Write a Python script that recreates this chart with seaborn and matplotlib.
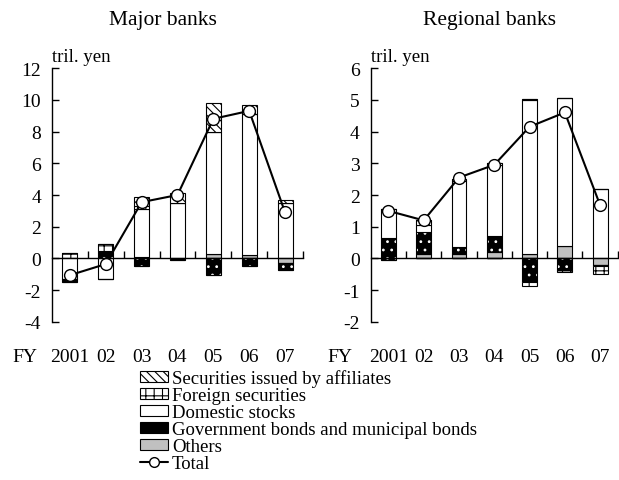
import matplotlib
matplotlib.use("Agg")
import matplotlib.pyplot as plt
from matplotlib.patches import Patch
from matplotlib.lines import Line2D
import seaborn as sns
import numpy as np

years = ["2001", "02", "03", "04", "05", "06", "07"]
series = ["Others", "Government bonds and municipal bonds", "Domestic stocks",
          "Foreign securities", "Securities issued by affiliates"]

# major banks, tril. yen (positive / negative parts of each component)
major_pos = {
    "Others":       [0.0, 0.0, 0.1, 0.0, 0.3, 0.25, 0.0],
    "Government bonds and municipal bonds": [0.05, 0.45, 0.0, 0.0, 0.0, 0.0, 0.0],
    "Domestic stocks": [0.0, 0.0, 3.0, 3.5, 7.7, 8.85, 3.5],
    "Foreign securities": [0.3, 0.45, 0.2, 0.0, 0.0, 0.0, 0.0],
    "Securities issued by affiliates": [0.0, 0.0, 0.6, 0.6, 1.8, 0.6, 0.2],
}
major_neg = {
    "Others":       [0.0, 0.0, 0.0, -0.02, 0.0, 0.0, -0.3],
    "Domestic stocks": [-1.3, -1.3, 0.0, 0.0, 0.0, 0.0, 0.0],
    "Government bonds and municipal bonds": [-0.15, 0.0, -0.45, -0.08, -1.05, -0.5, -0.4],
    "Foreign securities": [0.0, 0.0, 0.0, 0.0, 0.0, 0.0, 0.0],
}
major_total = [-1.05, -0.35, 3.55, 4.0, 8.8, 9.3, 2.9]

# regional banks
regional_pos = {
    "Others":       [0.0, 0.15, 0.15, 0.22, 0.15, 0.4, 0.0],
    "Government bonds and municipal bonds": [0.65, 0.7, 0.2, 0.5, 0.0, 0.0, 0.0],
    "Domestic stocks": [0.9, 0.2, 2.1, 2.23, 4.83, 4.65, 2.2],
    "Foreign securities": [0.0, 0.15, 0.05, 0.05, 0.05, 0.0, 0.0],
    "Securities issued by affiliates": [0.0, 0.0, 0.0, 0.0, 0.0, 0.0, 0.0],
}
regional_neg = {
    "Others":       [0.0, 0.0, 0.0, 0.0, 0.0, 0.0, -0.2],
    "Domestic stocks": [0.0, 0.0, 0.0, 0.0, 0.0, 0.0, 0.0],
    "Government bonds and municipal bonds": [-0.05, 0.0, 0.0, 0.0, -0.75, -0.35, -0.05],
    "Foreign securities": [0.0, 0.0, 0.0, 0.0, -0.12, -0.07, -0.25],
}
regional_total = [1.5, 1.2, 2.55, 2.95, 4.15, 4.6, 1.68]

styles = {
    "Others": dict(facecolor="#c0c0c0", hatch=None, hc="black"),
    "Government bonds and municipal bonds": dict(facecolor="black", hatch="..", hc="white"),
    "Domestic stocks": dict(facecolor="white", hatch=None, hc="black"),
    "Foreign securities": dict(facecolor="white", hatch="++", hc="black"),
    "Securities issued by affiliates": dict(facecolor="white", hatch="\\\\\\\\", hc="black"),
}

sns.set_theme(style="ticks")
plt.rcParams["font.family"] = ["Liberation Serif", "DejaVu Serif"]
plt.rcParams["hatch.linewidth"] = 0.8
plt.rcParams["text.color"] = "black"
plt.rcParams["xtick.color"] = "black"
plt.rcParams["ytick.color"] = "black"
plt.rcParams["axes.labelcolor"] = "black"

fig = plt.figure(figsize=(6.19, 4.81), dpi=100)
ax1 = fig.add_axes([0.084, 0.3285, 0.4055, 0.528])
ax2 = fig.add_axes([0.599, 0.3285, 0.399, 0.528])

x = np.arange(len(years))
w = 0.42


def draw_bars(ax, pos, neg):
    bottom = np.zeros(len(years))
    for name in series:
        vals = np.array(pos[name])
        st = styles[name]
        ax.bar(x, vals, w, bottom=bottom, color=st["facecolor"], edgecolor=st["hc"],
               hatch=st["hatch"], linewidth=0)
        ax.bar(x, vals, w, bottom=bottom, fill=False, edgecolor="black", linewidth=0.8)
        bottom = bottom + vals
    bottom = np.zeros(len(years))
    for name in neg:
        vals = np.array(neg[name])
        st = styles[name]
        ax.bar(x, vals, w, bottom=bottom, color=st["facecolor"], edgecolor=st["hc"],
               hatch=st["hatch"], linewidth=0)
        ax.bar(x, vals, w, bottom=bottom, fill=False, edgecolor="black", linewidth=0.8)
        bottom = bottom + vals


def style_axis(ax, lo, hi, step, fy_x):
    ax.set_xlim(-0.5, 6.5)
    ax.set_ylim(lo, hi)
    ax.set_yticks(np.arange(lo, hi + step / 2, step))
    ax.set_yticklabels([str(int(v)) for v in np.arange(lo, hi + step / 2, step)], fontsize=14)
    ax.spines["top"].set_visible(False)
    ax.spines["right"].set_visible(False)
    ax.spines["bottom"].set_position(("data", 0))
    ax.spines["left"].set_linewidth(1.0)
    ax.spines["bottom"].set_linewidth(1.0)
    ax.spines["left"].set_color("black")
    ax.spines["bottom"].set_color("black")
    ax.set_xticks(np.arange(0.5, 7, 1))
    ax.set_xticklabels([])
    ax.tick_params(axis="x", direction="in", length=5, width=1, color="black")
    ax.tick_params(axis="y", direction="in", length=5, width=1, color="black", pad=8)
    trans = ax.get_xaxis_transform()
    for i, lab in enumerate(years):
        ax.text(i, -0.135, lab, transform=trans, ha="center", va="center", fontsize=14)
    ax.text(fy_x, -0.135, "FY", transform=trans, ha="center", va="center", fontsize=14)
    ax.text(0.0, 1.012, "tril. yen", transform=ax.transAxes, ha="left", va="bottom",
            fontsize=13.5)
    ax.set_xlabel("")
    ax.set_ylabel("")


draw_bars(ax1, major_pos, major_neg)
sns.lineplot(x=x, y=major_total, ax=ax1, color="black", linewidth=1.5, marker="o",
             markersize=8.5, markerfacecolor="white", markeredgecolor="black",
             markeredgewidth=1.0, zorder=5)
style_axis(ax1, -4, 12, 2, -1.25)

draw_bars(ax2, regional_pos, regional_neg)
sns.lineplot(x=x, y=regional_total, ax=ax2, color="black", linewidth=1.5, marker="o",
             markersize=8.5, markerfacecolor="white", markeredgecolor="black",
             markeredgewidth=1.0, zorder=5)
style_axis(ax2, -2, 6, 1, -1.38)

fig.text(0.263, 0.958, "Major banks", ha="center", va="center", fontsize=15.5)
fig.text(0.79, 0.958, "Regional banks", ha="center", va="center", fontsize=15.5)

legend_order = ["Securities issued by affiliates", "Foreign securities", "Domestic stocks",
                "Government bonds and municipal bonds", "Others"]
handles = []
for name in legend_order:
    st = styles[name]
    handles.append(Patch(facecolor=st["facecolor"], edgecolor="black", hatch=st["hatch"],
                         linewidth=0.8))
handles.append(Line2D([0], [0], color="black", linewidth=1.5, marker="o", markersize=7,
                      markerfacecolor="white", markeredgecolor="black"))
fig.legend(handles, legend_order + ["Total"], loc="upper left",
           bbox_to_anchor=(0.226, 0.23), frameon=False, fontsize=13.5,
           handlelength=1.5, handleheight=0.55, handletextpad=0.2, labelspacing=0.0,
           borderpad=0, borderaxespad=0)

fig.savefig("out.png", dpi=100)
